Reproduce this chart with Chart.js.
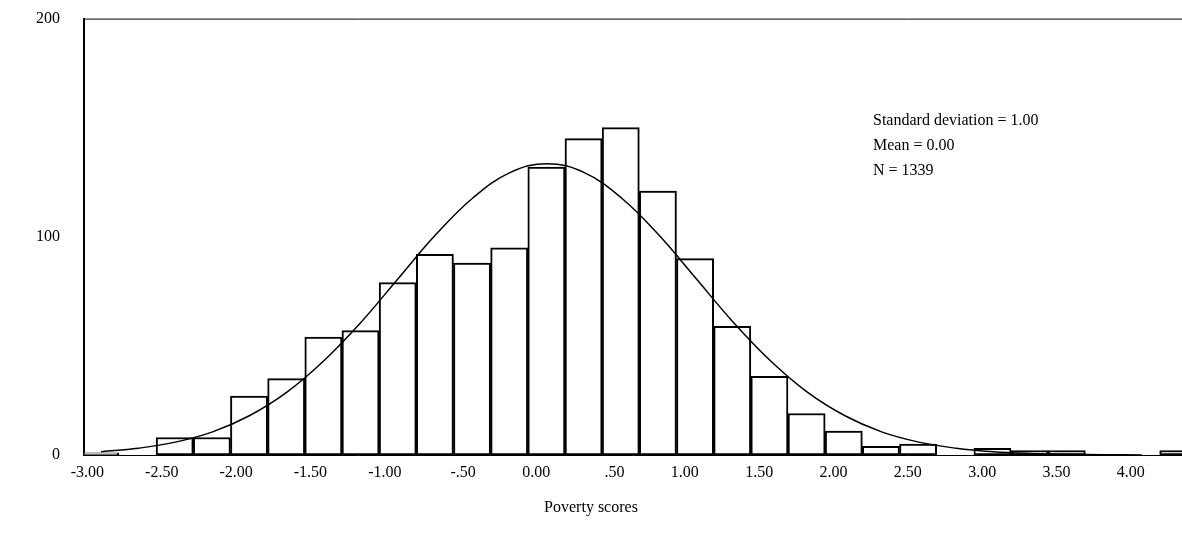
<!DOCTYPE html>
<html>
<head>
<meta charset="utf-8">
<script src="https://cdn.jsdelivr.net/npm/chart.js@4"></script>
<style>
  body { margin: 0; background: #fff; overflow: hidden; }
  #wrap { width: 1182px; height: 559px; margin-top: -15px; }
</style>
</head>
<body>
<div id="wrap"><canvas id="hist"></canvas></div>
<script>
// Histogram bins (centres, width .25) and counts
const binCenters = [-3.005, -2.755, -2.505, -2.255, -2.005, -1.755, -1.505, -1.255, -1.005, -0.755,
  -0.505, -0.255, -0.005, 0.245, 0.495, 0.745, 0.995, 1.245, 1.495, 1.745,
  1.995, 2.245, 2.495, 2.745, 2.995, 3.245, 3.495, 3.745, 3.995, 4.245];
const counts = [1, 0, 8, 8, 27, 35, 54, 57, 79, 92,
  88, 95, 132, 145, 150, 121, 90, 59, 36, 19,
  11, 4, 5, 0, 3, 2, 2, 0, 0, 2];

// Normal curve as drawn over the bars
const curveX = [-3.0, -2.75, -2.5, -2.25, -2.0, -1.75, -1.5, -1.25, -1.0, -0.75, -0.5, -0.25, 0,
  0.25, 0.5, 0.75, 1.0, 1.25, 1.5, 1.75, 2.0, 2.25, 2.5, 2.75, 3.0, 3.25, 3.5, 3.75, 4.0];
const curveY = [1.5, 3.1, 5.9, 10.6, 18.1, 28.8, 43.3, 61.0, 81.0, 100.9, 117.8, 129.4, 133.5,
  129.4, 117.8, 100.9, 81.0, 61.0, 43.3, 28.8, 18.1, 10.6, 5.9, 3.1, 1.5, 0.7, 0.3, 0.1, 0.04];

const xTicks = [-3, -2.5, -2, -1.5, -1, -0.5, 0, 0.5, 1, 1.5, 2, 2.5, 3, 3.5, 4];
const xTickLabels = ['-3.00', '-2.50', '-2.00', '-1.50', '-1.00', '-.50', '0.00', '.50',
  '1.00', '1.50', '2.00', '2.50', '3.00', '3.50', '4.00'];
const yTicks = [0, 100, 200];
const statsText = ['Standard deviation = 1.00', 'Mean = 0.00', 'N = 1339'];
const xTitle = 'Poverty scores';

const serif = '"Liberation Serif", "DejaVu Serif", serif';
Chart.defaults.font.family = serif;
Chart.defaults.font.size = 16;
Chart.defaults.color = '#000';

const extras = {
  id: 'extras',
  afterDraw(chart) {
    const { ctx, chartArea } = chart;
    ctx.save();
    // top frame line
    ctx.strokeStyle = '#000';
    ctx.lineWidth = 1;
    ctx.beginPath();
    ctx.moveTo(chartArea.left, chartArea.top + 0.5);
    ctx.lineTo(chartArea.right, chartArea.top + 0.5);
    ctx.stroke();
    ctx.fillStyle = '#000';
    ctx.font = '16px ' + serif;
    ctx.textBaseline = 'middle';
    statsText.forEach((t, i) => ctx.fillText(t, 873, 136 + i * 25));
    ctx.textAlign = 'center';
    ctx.fillText(xTitle, 591, 523);
    ctx.restore();
  }
};

new Chart(document.getElementById('hist'), {
  data: {
    datasets: [
      {
        type: 'line',
        data: curveX.map((x, i) => ({ x: x, y: curveY[i] })),
        borderColor: '#000',
        borderWidth: 1.5,
        pointRadius: 0,
        tension: 0.4,
        fill: false
      },
      {
        type: 'bar',
        data: binCenters.map((x, i) => ({ x: x, y: counts[i] })),
        backgroundColor: '#fff',
        borderColor: '#000',
        borderWidth: 2,
        barPercentage: 1,
        categoryPercentage: 1,
        borderSkipped: false
      }
    ]
  },
  options: {
    responsive: true,
    maintainAspectRatio: false,
    animation: false,
    layout: { padding: { top: 3, right: 0, left: 0, bottom: 0 } },
    plugins: { legend: { display: false }, tooltip: { enabled: false } },
    scales: {
      x: {
        type: 'linear',
        offset: false,
        min: -3.115,
        max: 4.27,
        grid: { display: false, drawTicks: true, tickLength: 6 },
        border: { display: true, color: '#000', width: 1 },
        afterBuildTicks: s => { s.ticks = xTicks.map(v => ({ value: v })); },
        ticks: {
          autoSkip: false,
          maxRotation: 0,
          padding: 2,
          align: 'end',
          labelOffset: 3,
          callback: (v) => xTickLabels[xTicks.indexOf(v)]
        },
        afterFit: s => { s.height = 89; }
      },
      y: {
        min: 0,
        max: 200,
        grid: { display: false, drawTicks: false },
        border: { display: true, color: '#000', width: 2 },
        afterBuildTicks: s => { s.ticks = yTicks.map(v => ({ value: v })); },
        ticks: { padding: 24 },
        afterFit: s => { s.width = 84; }
      }
    }
  },
  plugins: [extras]
});
</script>
</body>
</html>
